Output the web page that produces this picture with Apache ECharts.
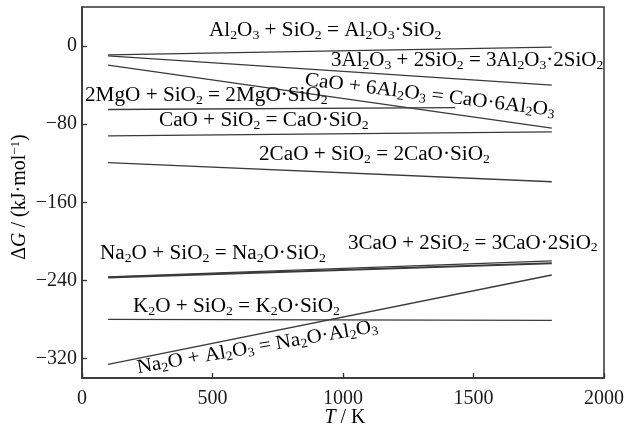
<!DOCTYPE html>
<html>
<head>
<meta charset="utf-8">
<script src="https://cdn.jsdelivr.net/npm/echarts@6/dist/echarts.min.js"></script>
<style>html,body{margin:0;padding:0;background:#fff}#c{width:627px;height:432px}</style>
</head>
<body>
<div id="c"></div>
<script>
// ---- data (ΔG in kJ/mol vs T in K) ----
const T_full = [100, 1800];
const T_MgO = [100, 1430];
const dG_Al2O3_SiO2 = [-9, -1];
const dG_3Al2O3_2SiO2 = [-10, -40];
const dG_CaO_6Al2O3 = [-19.5, -84];
const dG_2MgO_SiO2 = [-65, -63];
const dG_CaO_SiO2 = [-92, -88];
const dG_2CaO_SiO2 = [-119.5, -139];
const dG_Na2O_SiO2 = [-237, -222.5];
const dG_3CaO_2SiO2 = [-236.5, -220];
const dG_K2O_SiO2 = [-280, -281];
const dG_Na2O_Al2O3 = [-326, -234.5];

const xTicks = [0, 500, 1000, 1500, 2000];
const yTicks = [0, -80, -160, -240, -320];

const reactionNames = [
  'Al2O3 + SiO2 = Al2O3·SiO2',
  '3Al2O3 + 2SiO2 = 3Al2O3·2SiO2',
  'CaO + 6Al2O3 = CaO·6Al2O3',
  '2MgO + SiO2 = 2MgO·SiO2',
  'CaO + SiO2 = CaO·SiO2',
  '2CaO + SiO2 = 2CaO·SiO2',
  'Na2O + SiO2 = Na2O·SiO2',
  '3CaO + 2SiO2 = 3CaO·2SiO2',
  'K2O + SiO2 = K2O·SiO2',
  'Na2O + Al2O3 = Na2O·Al2O3'
];
const seriesT = [T_full, T_full, T_full, T_MgO, T_full, T_full, T_full, T_full, T_full, T_full];
const seriesG = [dG_Al2O3_SiO2, dG_3Al2O3_2SiO2, dG_CaO_6Al2O3, dG_2MgO_SiO2, dG_CaO_SiO2,
  dG_2CaO_SiO2, dG_Na2O_SiO2, dG_3CaO_2SiO2, dG_K2O_SiO2, dG_Na2O_Al2O3];

// label layout (pixels): left x, centre y, rotation (deg), horizontal stretch
const labelLayout = [
  [209, 31, 0, 1.06],
  [331, 61, 0, 1.05],
  [305, 80, -7, 1.06],
  [85, 96, 0, 1.06],
  [159, 121, 0, 1.06],
  [259, 155, 0, 1.06],
  [100, 254, 0, 1.06],
  [348, 243.5, 0, 1.05],
  [133, 307, 0, 1.06],
  [137, 368, 9.8, 1.05]
];

const FONT = 'Liberation Serif';
const INK = '#1a1a1a';
const LINE = '#3a3a3a';

function chem(s) {
  // digits directly after a letter become subscripts
  let out = '', buf = '', prev = '';
  for (const ch of s) {
    const isDigit = /\d/.test(ch);
    const sub = isDigit && /[A-Za-z]/.test(prev) || (isDigit && prev === '\u0000');
    if (sub) {
      if (buf) { out += '{n|' + buf + '}'; buf = ''; }
      out += '{s|' + ch + '}';
      prev = '\u0000';
    } else {
      buf += ch;
      prev = ch;
    }
  }
  if (buf) out += '{n|' + buf + '}';
  return out;
}

const richStyles = {
  n: { fontFamily: FONT, fontSize: 20, lineHeight: 22, color: INK },
  s: { fontFamily: FONT, fontSize: 13, lineHeight: 12, color: INK, verticalAlign: 'bottom' },
  i: { fontFamily: FONT, fontSize: 20, lineHeight: 22, color: INK, fontStyle: 'italic' },
  sup: { fontFamily: FONT, fontSize: 13, lineHeight: 12, color: INK, verticalAlign: 'top' }
};

const series = seriesG.map((g, k) => ({
  type: 'line',
  name: reactionNames[k],
  data: seriesT[k].map((t, j) => [t, g[j]]),
  showSymbol: false,
  symbol: 'none',
  silent: true,
  lineStyle: { color: LINE, width: k === 6 ? 2 : 1.3 },
  z: 2
}));

const graphics = reactionNames.map((name, k) => {
  const [x, y, rotDeg, sx] = labelLayout[k];
  return {
    type: 'text', x: x, y: y, rotation: rotDeg * Math.PI / 180, scaleX: sx, z: 10,
    style: { text: chem(name), rich: richStyles, align: 'left', verticalAlign: 'middle' }
  };
});
graphics.push({
  type: 'text', x: 20, y: 197, rotation: Math.PI / 2, z: 10,
  style: { text: '{n|Δ}{i|G}{n| / (kJ·mol}{sup|−1}{n|)}', rich: richStyles, align: 'center', verticalAlign: 'middle' }
});
graphics.push({
  type: 'text', x: 345, y: 418, z: 10,
  style: { text: '{i|T}{n| / K}', rich: richStyles, align: 'center', verticalAlign: 'middle' }
});

const fmt = v => (v < 0 ? '\u2212' + Math.abs(v) : String(v));

const chart = echarts.init(document.getElementById('c'), null, { renderer: 'canvas' });
chart.setOption({
  animation: false,
  backgroundColor: '#fff',
  grid: { left: 82, right: 20, top: 7, bottom: 54, show: true, borderColor: '#333', borderWidth: 1.5, containLabel: false },
  xAxis: {
    type: 'value', min: xTicks[0], max: xTicks[xTicks.length - 1], interval: 500,
    axisLine: { show: true, onZero: false, lineStyle: { color: '#333', width: 1.5 } },
    axisTick: { show: true, inside: true, length: 5, lineStyle: { color: '#333', width: 1.3 } },
    axisLabel: { fontFamily: FONT, fontSize: 20, color: INK, margin: 11, formatter: fmt },
    splitLine: { show: false }
  },
  yAxis: {
    type: 'value', min: -340, max: 40,
    axisLine: { show: true, onZero: false, lineStyle: { color: '#333', width: 1.5 } },
    axisTick: { show: true, inside: true, length: 5, customValues: yTicks, lineStyle: { color: '#333', width: 1.3 } },
    axisLabel: { fontFamily: FONT, fontSize: 20, color: INK, margin: 5, customValues: yTicks, formatter: fmt },
    splitLine: { show: false }
  },
  series: series,
  graphic: graphics
});
</script>
</body>
</html>
